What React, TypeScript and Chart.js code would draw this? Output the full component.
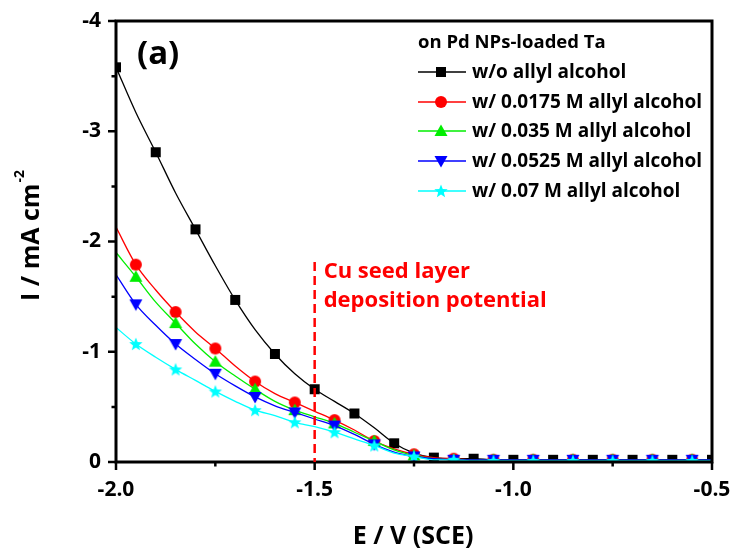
import React, { useEffect, useRef } from "react";
import { Chart, registerables } from "chart.js";

Chart.register(...registerables);

// ---- data ----
const potentials = [
  -2.0, -1.95, -1.9, -1.85, -1.8, -1.75, -1.7, -1.65, -1.6, -1.55, -1.5,
  -1.45, -1.4, -1.35, -1.3, -1.25, -1.2, -1.15, -1.1, -1.05, -1.0, -0.95,
  -0.9, -0.85, -0.8, -0.75, -0.7, -0.65, -0.6, -0.55, -0.5,
];
const noAllyl = [
  -3.58, -3.17, -2.81, -2.44, -2.11, -1.78, -1.47, -1.2, -0.98, -0.8, -0.66,
  -0.55, -0.44, -0.31, -0.17, -0.08, -0.04, -0.03, -0.03, -0.02, -0.02, -0.02,
  -0.02, -0.02, -0.02, -0.02, -0.02, -0.02, -0.02, -0.02, -0.02,
];
const allyl0175 = [
  -2.13, -1.79, -1.56, -1.36, -1.18, -1.03, -0.87, -0.73, -0.62, -0.54, -0.46,
  -0.38, -0.29, -0.19, -0.12, -0.07, -0.04, -0.03, -0.02, -0.02, -0.02, -0.02,
  -0.02, -0.02, -0.02, -0.02, -0.02, -0.02, -0.02, -0.02, -0.02,
];
const allyl035 = [
  -1.9, -1.68, -1.45, -1.26, -1.07, -0.91, -0.78, -0.66, -0.55, -0.47, -0.41,
  -0.35, -0.27, -0.19, -0.11, -0.06, -0.03, -0.02, -0.02, -0.02, -0.02, -0.02,
  -0.02, -0.02, -0.02, -0.02, -0.02, -0.02, -0.02, -0.02, -0.02,
];
const allyl0525 = [
  -1.7, -1.43, -1.24, -1.07, -0.93, -0.8, -0.69, -0.59, -0.51, -0.45, -0.39,
  -0.33, -0.25, -0.16, -0.09, -0.05, -0.03, -0.02, -0.02, -0.02, -0.02, -0.02,
  -0.02, -0.02, -0.02, -0.02, -0.02, -0.02, -0.02, -0.02, -0.02,
];
const allyl07 = [
  -1.22, -1.07, -0.95, -0.84, -0.74, -0.64, -0.55, -0.47, -0.42, -0.36, -0.32,
  -0.27, -0.21, -0.15, -0.08, -0.05, -0.02, -0.02, -0.01, -0.01, -0.01, -0.01,
  -0.01, -0.01, -0.01, -0.01, -0.01, -0.01, -0.01, -0.01, -0.01,
];
const seriesLabels = [
  "w/o allyl alcohol",
  "w/ 0.0175 M allyl alcohol",
  "w/ 0.035 M allyl alcohol",
  "w/ 0.0525 M allyl alcohol",
  "w/ 0.07 M allyl alcohol",
];
const legendTitle = "on Pd NPs-loaded Ta";
const xTitle = "E / V (SCE)";
const yTitle = "I / mA cm";
const yTitleSup = "-2";
const panelLabel = "(a)";
const markerPotential = -1.5;
const annotationLines = ["Cu seed layer", "deposition potential"];
const xMajorTicks = [-2.0, -1.5, -1.0, -0.5];
const xMinorTicks = [-1.75, -1.25, -0.75];
const yMajorTicks = [-4, -3, -2, -1, 0];
const yMinorTicks = [-3.5, -2.5, -1.5, -0.5];

const FONT = '"Open Sans", "Liberation Sans", sans-serif';

function makeMarker(kind: string, color: string): HTMLCanvasElement {
  const s = 16;
  const c = document.createElement("canvas");
  c.width = s;
  c.height = s;
  const g = c.getContext("2d")!;
  g.fillStyle = color;
  const cx = s / 2;
  const cy = s / 2;
  g.beginPath();
  if (kind === "square") {
    g.rect(cx - 5, cy - 5, 10, 10);
  } else if (kind === "circle") {
    g.arc(cx, cy, 6, 0, Math.PI * 2);
  } else if (kind === "up") {
    g.moveTo(cx, cy - 6.5);
    g.lineTo(cx + 6.5, cy + 5);
    g.lineTo(cx - 6.5, cy + 5);
    g.closePath();
  } else if (kind === "down") {
    g.moveTo(cx, cy + 6.5);
    g.lineTo(cx + 6.5, cy - 5);
    g.lineTo(cx - 6.5, cy - 5);
    g.closePath();
  } else {
    const R = 7;
    const r = 3;
    for (let i = 0; i < 10; i++) {
      const a = -Math.PI / 2 + (i * Math.PI) / 5;
      const rr = i % 2 === 0 ? R : r;
      const px = cx + rr * Math.cos(a);
      const py = cy + rr * Math.sin(a) + 0.5;
      if (i === 0) g.moveTo(px, py);
      else g.lineTo(px, py);
    }
    g.closePath();
  }
  g.fill();
  return c;
}

export default function App() {
  const ref = useRef<HTMLCanvasElement | null>(null);

  useEffect(() => {
    if (!ref.current) return;
    const colors = ["#000000", "#ff0000", "#00ee00", "#0000ff", "#00ffff"];
    const kinds = ["square", "circle", "up", "down", "star"];
    const markers = kinds.map((k, i) => makeMarker(k, colors[i]));
    const values = [noAllyl, allyl0175, allyl035, allyl0525, allyl07];

    const datasets = values.map((vals, i) => ({
      label: seriesLabels[i],
      data: potentials.map((x, j) => ({ x, y: vals[j] })),
      borderColor: colors[i],
      backgroundColor: colors[i],
      borderWidth: 1.3,
      pointStyle: markers[i] as any,
      pointRadius: (ctx: any) =>
        (ctx.dataIndex % 2 === 0) === (i === 0) ? 5 : 0,
      cubicInterpolationMode: "monotone" as const,
      order: 5 - i,
    }));

    const noPad = (s: any) => {
      s.paddingLeft = 0;
      s.paddingRight = 0;
      s.paddingTop = 0;
      s.paddingBottom = 0;
    };

    const overlay = {
      id: "overlay",
      afterDraw(chart: any) {
        const { ctx, chartArea: a, scales } = chart;
        const xs = scales.x;
        const ys = scales.y;
        ctx.save();
        // frame
        ctx.strokeStyle = "#000";
        ctx.lineWidth = 3;
        ctx.strokeRect(a.left, a.top, a.right - a.left, a.bottom - a.top);
        // ticks
        ctx.lineWidth = 2.5;
        ctx.beginPath();
        xMajorTicks.forEach((v) => {
          const p = xs.getPixelForValue(v);
          ctx.moveTo(p, a.bottom);
          ctx.lineTo(p, a.bottom + 8);
        });
        xMinorTicks.forEach((v) => {
          const p = xs.getPixelForValue(v);
          ctx.moveTo(p, a.bottom);
          ctx.lineTo(p, a.bottom + 4.5);
        });
        yMajorTicks.forEach((v) => {
          const p = ys.getPixelForValue(v);
          ctx.moveTo(a.left, p);
          ctx.lineTo(a.left - 8, p);
        });
        yMinorTicks.forEach((v) => {
          const p = ys.getPixelForValue(v);
          ctx.moveTo(a.left, p);
          ctx.lineTo(a.left - 4.5, p);
        });
        ctx.stroke();

        // dashed marker line
        const px = xs.getPixelForValue(markerPotential);
        ctx.strokeStyle = "#ff0000";
        ctx.lineWidth = 2.5;
        ctx.setLineDash([9, 5]);
        ctx.beginPath();
        ctx.moveTo(px, 262);
        ctx.lineTo(px, a.bottom);
        ctx.stroke();
        ctx.setLineDash([]);

        // annotation
        ctx.fillStyle = "#ff0000";
        ctx.font = `bold 22px ${FONT}`;
        ctx.textAlign = "left";
        ctx.textBaseline = "alphabetic";
        ctx.fillText(annotationLines[0], px + 9, 278);
        ctx.fillText(annotationLines[1], px + 9, 307);

        // panel label
        ctx.fillStyle = "#000";
        ctx.font = `bold 33px ${FONT}`;
        ctx.fillText(panelLabel, 137, 64);

        // legend
        ctx.font = `bold 18.5px ${FONT}`;
        ctx.textBaseline = "middle";
        ctx.fillText(legendTitle, 418, 43);
        ctx.font = `bold 19px ${FONT}`;
        const rows = [72, 102, 131, 161, 191];
        datasets.forEach((d, i) => {
          const y = rows[i];
          ctx.strokeStyle = colors[i];
          ctx.lineWidth = 1.5;
          ctx.beginPath();
          ctx.moveTo(418, y);
          ctx.lineTo(466, y);
          ctx.stroke();
          const m = markers[i];
          ctx.drawImage(m, 441 - m.width / 2, y - m.height / 2);
          ctx.fillStyle = "#000";
          ctx.fillText(d.label, 472, y + 1);
        });

        // x title
        ctx.textAlign = "center";
        ctx.font = `bold 25px ${FONT}`;
        ctx.fillText(xTitle, 413, 537);

        // y title with superscript
        ctx.translate(32, 236);
        ctx.rotate(-Math.PI / 2);
        ctx.font = `bold 25px ${FONT}`;
        const w1 = ctx.measureText(yTitle).width;
        ctx.font = `bold 14px ${FONT}`;
        const w2 = ctx.measureText(yTitleSup).width;
        const start = -(w1 + w2) / 2;
        ctx.textAlign = "left";
        ctx.font = `bold 25px ${FONT}`;
        ctx.fillText(yTitle, start, 0);
        ctx.font = `bold 14px ${FONT}`;
        ctx.fillText(yTitleSup, start + w1 + 1, -12);
        ctx.restore();
      },
    };

    const chart = new Chart(ref.current, {
      type: "line",
      data: { datasets: datasets as any },
      options: {
        animation: false,
        responsive: false,
        devicePixelRatio: 1,
        events: [],
        layout: { padding: { top: 21, right: 22, left: 0, bottom: 0 } },
        plugins: {
          legend: { display: false },
          tooltip: { enabled: false },
        },
        scales: {
          x: {
            type: "linear",
            min: -2,
            max: -0.5,
            grid: { display: false, drawTicks: false },
            border: { display: false },
            ticks: {
              stepSize: 0.5,
              padding: 15,
              color: "#000",
              font: { family: FONT, size: 21, weight: "bold" },
              callback: (v: any) => Number(v).toFixed(1),
              maxRotation: 0,
            },
            afterFit: (s: any) => {
              s.height = 90;
              noPad(s);
            },
          },
          y: {
            type: "linear",
            min: -4,
            max: 0,
            reverse: true,
            grid: { display: false, drawTicks: false },
            border: { display: false },
            ticks: {
              stepSize: 1,
              padding: 15,
              color: "#000",
              font: { family: FONT, size: 21, weight: "bold" },
              callback: (v: any) => String(Math.round(Number(v))),
            },
            afterFit: (s: any) => {
              s.width = 116;
              noPad(s);
            },
          },
        },
      },
      plugins: [overlay],
    });
    return () => chart.destroy();
  }, []);

  return (
    <div
      style={{
        position: "fixed",
        left: 0,
        top: 0,
        width: 734,
        height: 552,
        background: "#fff",
      }}
    >
      <canvas
        ref={ref}
        width={734}
        height={552}
        style={{ width: 734, height: 552, display: "block" }}
      />
    </div>
  );
}
